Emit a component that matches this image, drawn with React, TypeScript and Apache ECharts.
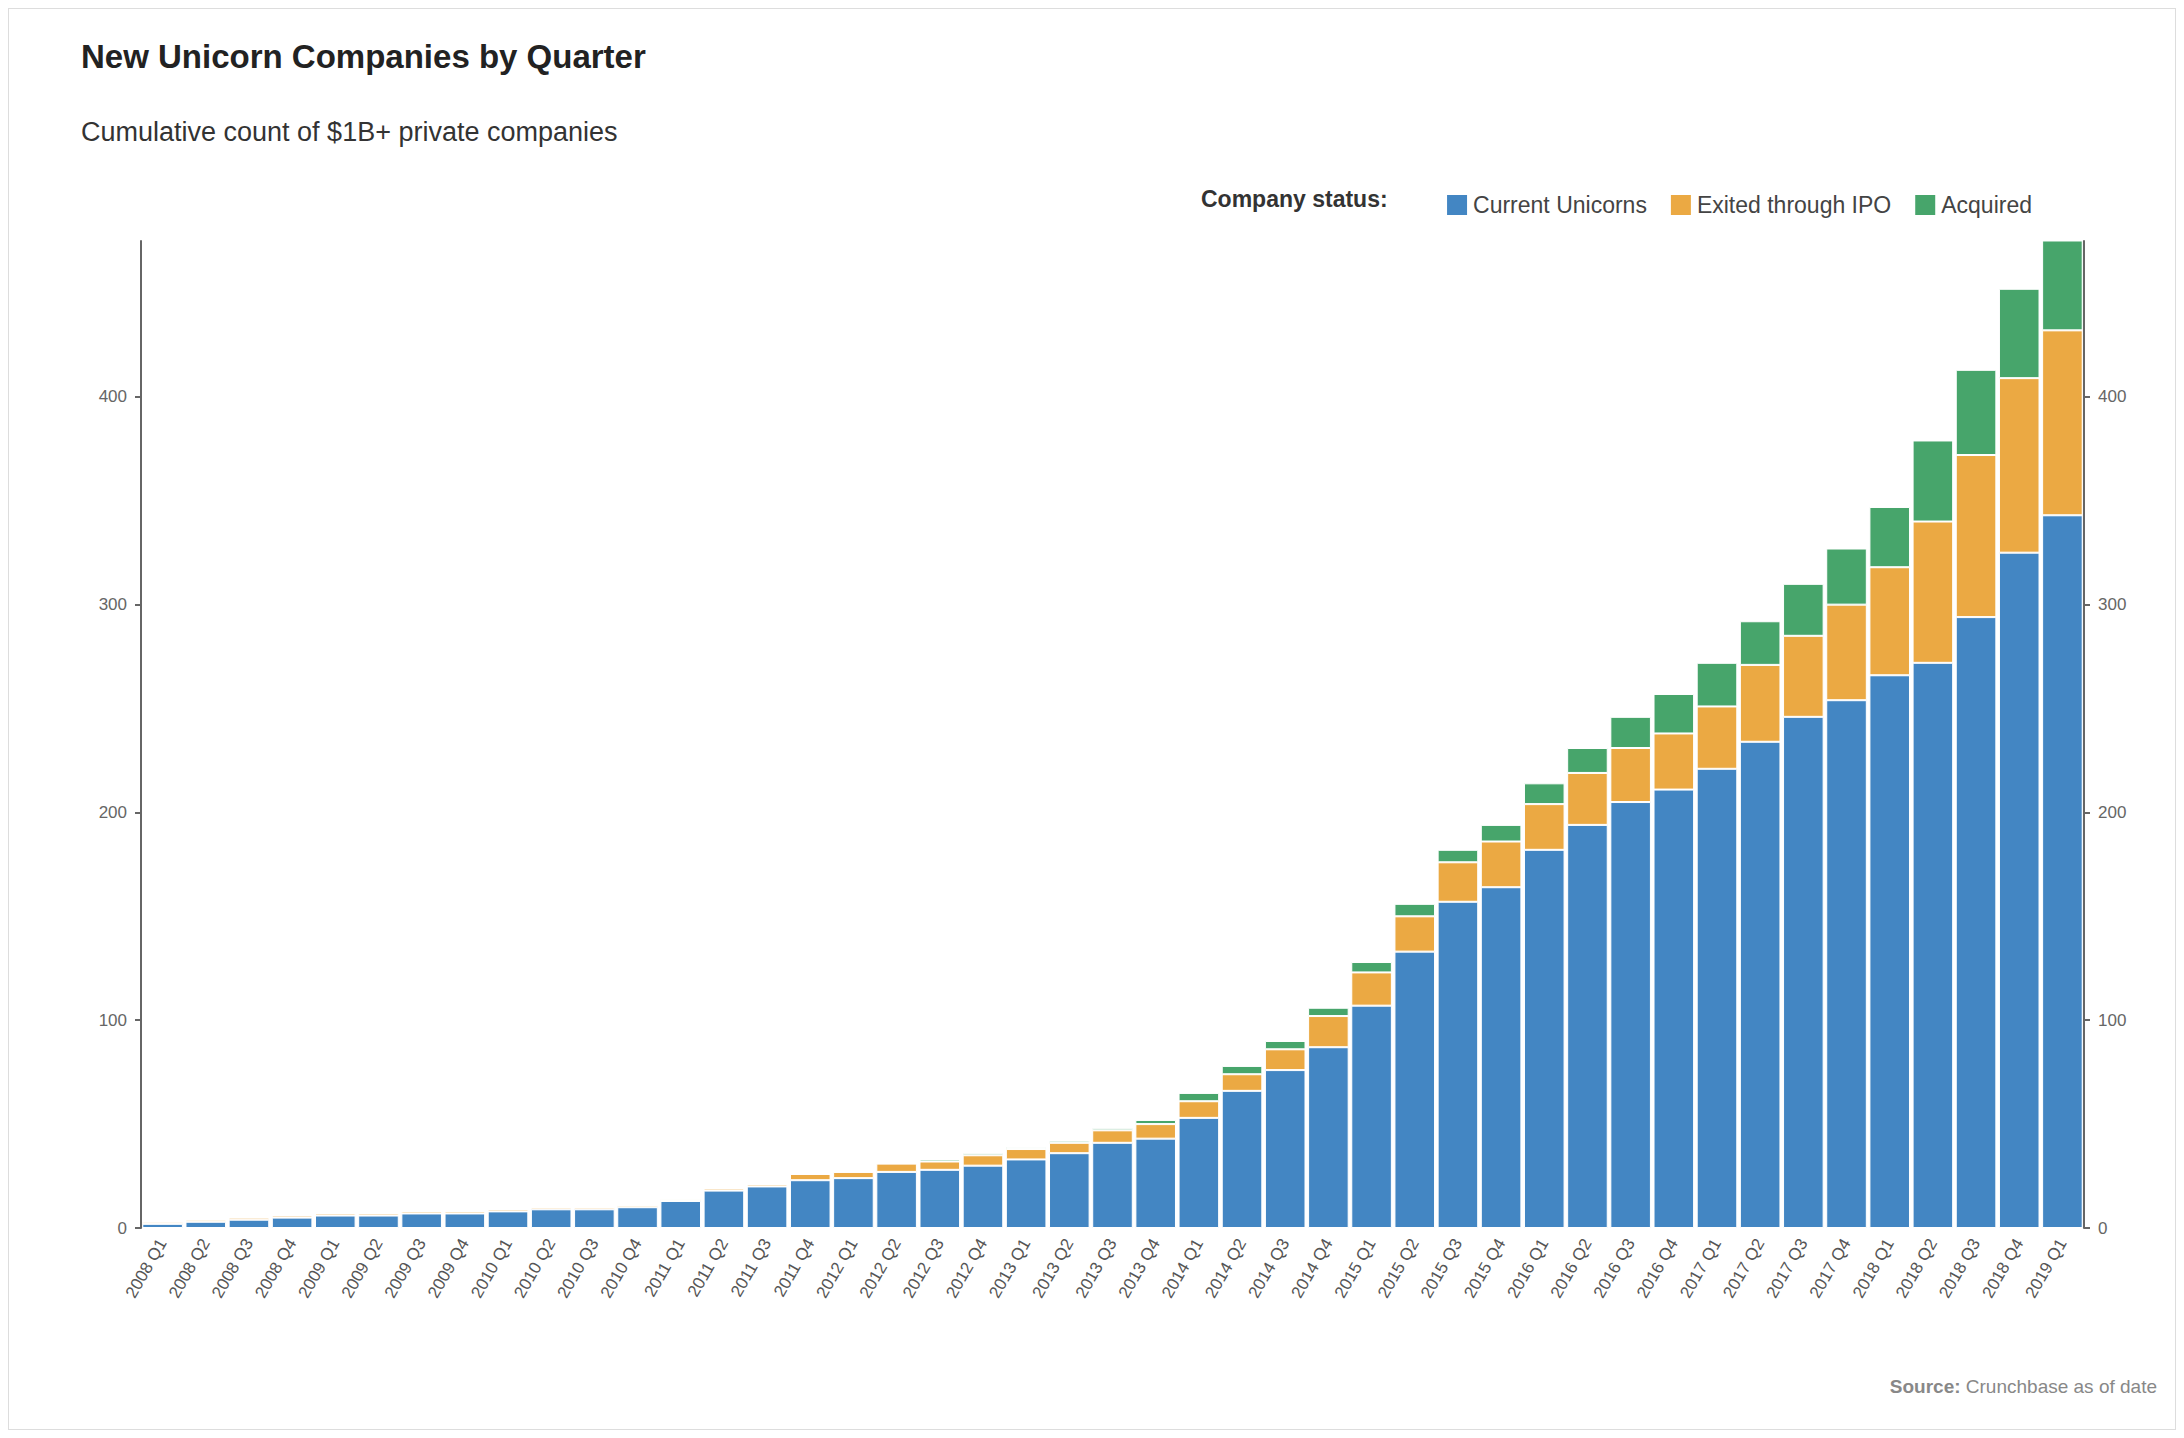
import React, { useEffect, useRef } from 'react';
import * as echarts from 'echarts';

const quarters = [
    '2008 Q1', '2008 Q2', '2008 Q3', '2008 Q4', '2009 Q1', '2009 Q2', '2009 Q3', '2009 Q4',
    '2010 Q1', '2010 Q2', '2010 Q3', '2010 Q4', '2011 Q1', '2011 Q2', '2011 Q3', '2011 Q4',
    '2012 Q1', '2012 Q2', '2012 Q3', '2012 Q4', '2013 Q1', '2013 Q2', '2013 Q3', '2013 Q4',
    '2014 Q1', '2014 Q2', '2014 Q3', '2014 Q4', '2015 Q1', '2015 Q2', '2015 Q3', '2015 Q4',
    '2016 Q1', '2016 Q2', '2016 Q3', '2016 Q4', '2017 Q1', '2017 Q2', '2017 Q3', '2017 Q4',
    '2018 Q1', '2018 Q2', '2018 Q3', '2018 Q4', '2019 Q1',
];

const currentUnicorns = [
    2, 3, 4, 5, 6, 6, 7, 7, 8, 9, 9, 10, 13, 18, 20, 23,
    24, 27, 28, 30, 33, 36, 41, 43, 53, 66, 76, 87, 107, 133, 157, 164,
    182, 194, 205, 211, 221, 234, 246, 254, 266, 272, 294, 325, 343,
];

const exitedIpo = [
    1, 1, 1, 1, 1, 1, 1, 1, 1, 1, 1, 1, 1, 1, 1, 3,
    3, 4, 4, 5, 5, 5, 6, 7, 8, 8, 10, 15, 16, 17, 19, 22,
    22, 25, 26, 27, 30, 37, 39, 46, 52, 68, 78, 84, 89,
];

const acquired = [
    0, 0, 0, 0, 0, 0, 0, 0, 0, 0, 0, 0, 0, 0, 0, 0,
    0, 0, 1, 1, 1, 1, 1, 2, 4, 4, 4, 4, 5, 6, 6, 8,
    10, 12, 15, 19, 21, 21, 25, 27, 29, 39, 41, 43, 44,
];

const FONT = '"Liberation Sans", Arial, sans-serif';

export default function App() {
    const chartRef = useRef<HTMLDivElement | null>(null);

    useEffect(() => {
        if (!chartRef.current) return;
        const chart = echarts.init(chartRef.current, null, { renderer: 'svg' });

        const yAxisCommon = {
            type: 'value',
            min: 0,
            max: 475,
            interval: 100,
            axisLine: { show: true, lineStyle: { color: '#666', width: 2 } },
            axisTick: { show: true, length: 6, lineStyle: { color: '#666', width: 2 } },
            axisLabel: {
                color: '#666',
                fontSize: 17,
                fontFamily: FONT,
                showMaxLabel: false,
                margin: 14,
            },
            splitLine: { show: false },
        };

        const bar = (name: string, data: number[], color: string) => ({
            name,
            type: 'bar',
            stack: 'total',
            data,
            barCategoryGap: '6%',
            itemStyle: { color, borderColor: '#fff', borderWidth: 1 },
        });

        chart.setOption({
            animation: false,
            textStyle: { fontFamily: FONT },
            title: [
                {
                    text: 'New Unicorn Companies by Quarter',
                    left: 67,
                    top: 26,
                    textStyle: { fontSize: 33, fontWeight: 'bold', color: '#222', fontFamily: FONT },
                },
                {
                    text: 'Cumulative count of $1B+ private companies',
                    left: 67,
                    top: 104,
                    textStyle: { fontSize: 27, fontWeight: 'normal', color: '#333', fontFamily: FONT },
                },
            ],
            legend: {
                right: 138,
                top: 179,
                itemWidth: 22,
                itemHeight: 22,
                itemGap: 22,
                icon: 'rect',
                textStyle: { fontSize: 23, color: '#444', fontFamily: FONT },
                data: ['Current Unicorns', 'Exited through IPO', 'Acquired'],
            },
            graphic: [
                {
                    type: 'text',
                    left: 1192,
                    top: 178,
                    style: { text: 'Company status:', fontSize: 23, fontWeight: 'bold', fill: '#333', fontFamily: FONT },
                },
                {
                    type: 'text',
                    right: 18,
                    top: 1368,
                    style: {
                        text: '{b|Source:} Crunchbase as of date',
                        fontSize: 19,
                        fill: '#888',
                        fontFamily: FONT,
                        rich: { b: { fontWeight: 'bold', fontSize: 19, fill: '#888', fontFamily: FONT } },
                    },
                },
            ],
            grid: { left: 132, right: 91, top: 232, bottom: 201 },
            xAxis: {
                type: 'category',
                data: quarters,
                axisLine: { show: false },
                axisTick: { show: false },
                axisLabel: {
                    interval: 0,
                    rotate: 60,
                    color: '#555',
                    fontSize: 17,
                    fontFamily: FONT,
                    margin: 12,
                },
            },
            yAxis: [
                { ...yAxisCommon, position: 'left' },
                { ...yAxisCommon, position: 'right' },
            ],
            series: [
                bar('Current Unicorns', currentUnicorns, '#4386c3'),
                bar('Exited through IPO', exitedIpo, '#eba943'),
                bar('Acquired', acquired, '#47a56b'),
            ],
        });

        return () => chart.dispose();
    }, []);

    return (
        <div
            style={{
                width: 2166,
                height: 1420,
                border: '1px solid #ddd',
                boxShadow: '0 0 4px rgba(0,0,0,0.15)',
                background: '#fff',
            }}
        >
            <div ref={chartRef} style={{ width: 2166, height: 1420 }} />
        </div>
    );
}
